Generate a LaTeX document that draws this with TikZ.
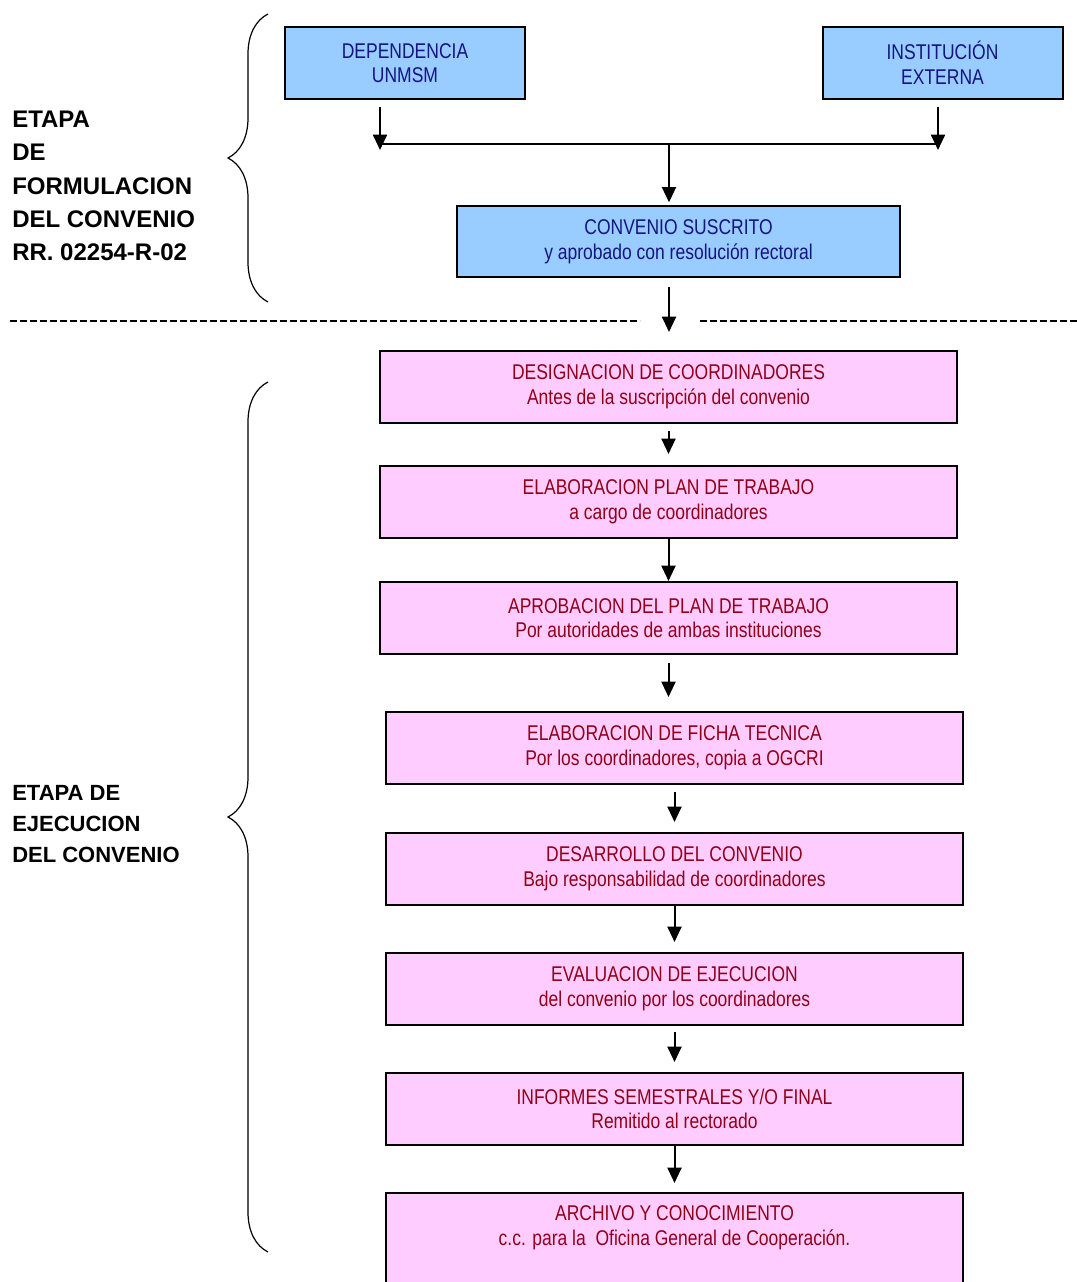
\documentclass[tikz,border=0pt]{standalone}
\usepackage{fontspec}
\setmainfont{Liberation Sans}
\newfontfamily\narrowfont[FakeStretch=0.82]{Liberation Sans}
\usepackage{tikz}
\usetikzlibrary{arrows.meta,positioning,calc,decorations.pathreplacing}
\definecolor{unmsmBlue} {RGB}{153, 204, 255}
\definecolor{unmsmNavy} {RGB}{20,  20,  130}
\definecolor{stepPink}  {RGB}{255, 204, 255}
\definecolor{stepRed}   {RGB}{145, 0,   25}

\begin{document}
\begin{tikzpicture}[x=0.75pt,y=-0.75pt,
    boxtext/.style={font=\narrowfont\fontsize{16}{18.5}\selectfont,align=center},
    bluebox/.style={boxtext,draw,line width=1.5pt,fill=unmsmBlue,text=unmsmNavy,
      minimum width=180pt,minimum height=54pt,inner sep=0pt},
    pinktext/.style={boxtext,text=stepRed},
    pinkbox/.style={pinktext,draw,line width=1.5pt,fill=stepPink,
      minimum width=432.75pt,minimum height=54pt,inner sep=0pt},
    flow/.style={-{Triangle[length=11.5pt,width=10.5pt]},line width=1.5pt},
    stage/.style={anchor=west,align=left,inner sep=0pt},
    bracket/.style={decorate,decoration={brace,amplitude=30pt},line width=0.9pt}]

    \useasboundingbox (0,0) rectangle (1077,1282);

    % ── FORMULACION ────────────────────────────────────────
    \node[stage,font=\bfseries\fontsize{18}{25}\selectfont] (formulacion) at (12,186)
      {ETAPA\\DE\\FORMULACION\\DEL CONVENIO\\RR. 02254-R-02};
    \draw[bracket] (268,302) -- (268,14);

    \node[bluebox] (dep)  at (405,63)   {DEPENDENCIA\\UNMSM};
    \node[bluebox] (inst) at (942.5,63) {INSTITUCIÓN\\EXTERNA};
    \node[bluebox,minimum width=332.25pt,minimum height=53.25pt] (conv) at (678.5,241.5)
      {CONVENIO SUSCRITO\\y aprobado con resolución rectoral};

    \coordinate (jL) at (380,144);
    \coordinate (jR) at (938,144);
    \coordinate (jC) at (669,144);
    \draw[flow,shorten <=5pt] (dep.south -| jL) -- ($(jL)+(0,6)$);
    \draw[flow,shorten <=5pt] (inst.south -| jR) -- ($(jR)+(0,6)$);
    \draw[line width=1.5pt] (jL) -- (jR);
    \draw[flow,shorten >=2pt] (jC) -- (conv.north -| jC);
    \draw[flow,shorten <=6.75pt,shorten >=13.5pt] (conv.south -| jC) -- (669,350);

    % separador
    \draw[line width=1.1pt,dash pattern=on 5pt off 2.5pt] (10,321) -- (640,321);
    \draw[line width=1.1pt,dash pattern=on 5pt off 2.5pt] (700,321) -- (1077,321);

    % ── EJECUCION ──────────────────────────────────────────
    \node[stage,font=\bfseries\fontsize{16.5}{23}\selectfont] (ejecucion) at (12,824)
      {ETAPA DE\\EJECUCION\\DEL CONVENIO};
    \draw[bracket] (268,1252) -- (268,382);

    \foreach \name/\x/\y/\head/\sub in {
      p1/668.5/387/{DESIGNACION DE COORDINADORES}/{Antes de la suscripción del convenio},
      p2/668.5/502/{ELABORACION PLAN DE TRABAJO}/{a cargo de coordinadores},
      p3/668.5/618/{APROBACION DEL PLAN DE TRABAJO}/{Por autoridades de ambas instituciones},
      p4/674.5/748/{ELABORACION DE FICHA TECNICA}/{Por los coordinadores, copia a OGCRI},
      p5/674.5/869/{DESARROLLO DEL CONVENIO}/{Bajo responsabilidad de coordinadores},
      p6/674.5/989/{EVALUACION DE EJECUCION}/{del convenio por los coordinadores},
      p7/674.5/1109/{INFORMES SEMESTRALES Y/O FINAL}/{Remitido al rectorado}}{
      \node[pinkbox] (\name) at (\x,\y) {\head\\\sub};
    }
    \node[pinkbox,anchor=north,minimum height=90pt] (p8) at (674.5,1192) {};
    \node[pinktext] (p8txt) at ($(p8.north)+(0,35.5)$)
      {ARCHIVO Y CONOCIMIENTO\\c.c. para la\ \ Oficina General de Cooperación.};

    \foreach \a/\b/\s/\e in {p1/p2/5.25/8.25, p2/p3/0/0, p3/p4/6/10.5, p4/p5/5.25/7.5,
                             p5/p6/0/7.5, p6/p7/4.5/7.5, p7/p8/0/6.75}{
      \draw[flow,shorten <=\s pt,shorten >=\e pt] (\a.south) -- (\a.south |- \b.north);
    }

  \end{tikzpicture}
\end{document}
